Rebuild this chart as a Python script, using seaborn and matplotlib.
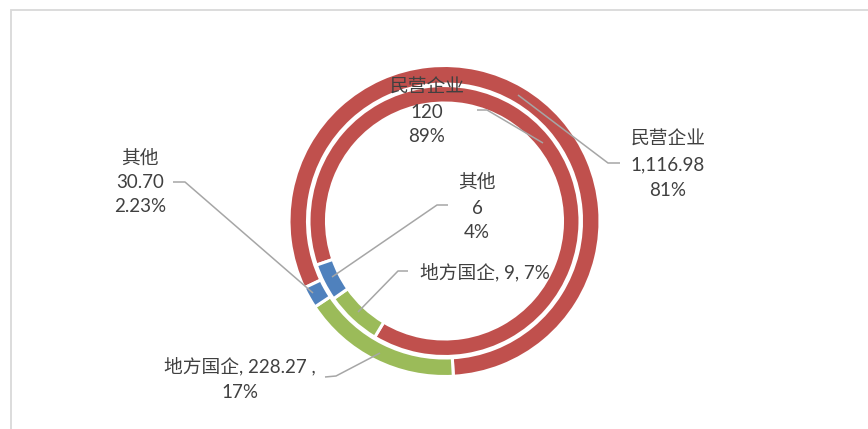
import matplotlib
matplotlib.use('Agg')
import matplotlib.pyplot as plt
import seaborn as sns
from matplotlib.patches import Rectangle

# ---- data ----
categories = ['民营企业', '地方国企', '其他']
outer_values = [1116.98, 228.27, 30.70]
outer_value_labels = ['1,116.98', '228.27', '30.70']
outer_pct_labels = ['81%', '17%', '2.23%']
inner_values = [120, 9, 6]
inner_value_labels = ['120', '9', '6']
inner_pct_labels = ['89%', '7%', '4%']
colors = ['#C0504D', '#9BBB59', '#4F81BD']

sns.set_theme(style='white')
plt.rcParams['font.family'] = ['Lato', 'Noto Sans CJK SC', 'DejaVu Sans']

W, H = 868, 429
fig = plt.figure(figsize=(W / 100, H / 100), dpi=100)
ax = fig.add_axes([0, 0, 1, 1])


def Y(y):
    return H - y


cx, cy = 444.5, Y(221)
lw = 2.2
ax.pie(outer_values, colors=colors, radius=155.5, center=(cx, cy),
       startangle=90 - 244.5, counterclock=False,
       wedgeprops=dict(width=18.5, edgecolor='white', linewidth=lw))
ax.pie(inner_values, colors=colors, radius=135.5, center=(cx, cy),
       startangle=90 - 251, counterclock=False,
       wedgeprops=dict(width=17.5, edgecolor='white', linewidth=lw))

ax.set_xlim(0, W)
ax.set_ylim(0, H)
ax.set_aspect('auto')
ax.axis('off')

# chart-area border (top & left visible)
fig.patches.append(Rectangle((11 / W, -0.1), 2, Y(10) / H + 0.1, transform=fig.transFigure,
                             fill=False, edgecolor='#D9D9D9', linewidth=1.3))

tc = '#404040'
fs = 13.5
lc = '#A6A6A6'


def lines(x, ys, texts):
    for y, t in zip(ys, texts):
        ax.text(x, Y(y), t, ha='center', va='center', fontsize=fs, color=tc)


def leader(pts):
    ax.plot([p[0] for p in pts], [Y(p[1]) for p in pts], color=lc, linewidth=1.1,
            solid_capstyle='butt')


# outer labels
leader([(518, 95), (608, 163), (620, 163)])
lines(668, [139, 165, 190], [categories[0], outer_value_labels[0], outer_pct_labels[0]])

leader([(173, 182), (185, 182), (313, 293)])
lines(140, [158, 183, 207], [categories[2], outer_value_labels[2], outer_pct_labels[2]])

leader([(325, 377), (336, 376), (380, 353)])
lines(240, [366, 392], [f'{categories[1]}, {outer_value_labels[1]} ,', outer_pct_labels[1]])

# inner labels
leader([(477, 110), (487, 110), (543, 143)])
lines(427, [87, 113, 136], [categories[0], inner_value_labels[0], inner_pct_labels[0]])

leader([(448, 205), (437, 205), (332, 277)])
lines(477, [182, 208, 233], [categories[2], inner_value_labels[2], inner_pct_labels[2]])

leader([(408, 271), (398, 271), (358, 312)])
lines(485, [272], [f'{categories[1]}, {inner_value_labels[1]}, {inner_pct_labels[1]}'])

fig.savefig('out.png', dpi=100, facecolor='white')
